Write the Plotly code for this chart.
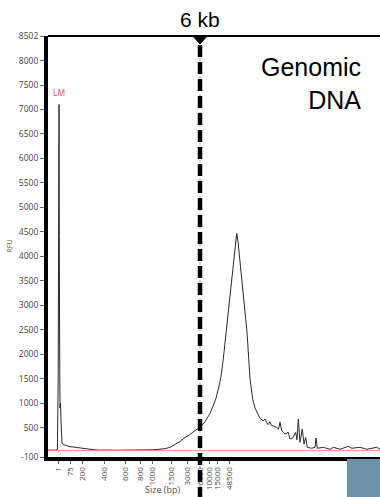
import plotly.graph_objects as go

# Electropherogram trace: migration time (s) vs RFU
time_s = [40.0, 41.25, 42.25, 42.6, 42.8, 42.9, 43.0, 43.08, 43.15, 43.25, 43.38, 43.5, 43.6,
          43.75, 44.25, 45.0, 45.75, 46.5, 47.25, 48.0, 48.75, 49.5, 50.75, 52.0,
          53.25, 54.5, 55.75, 57.0, 58.25, 59.5, 60.75, 62.0, 63.25, 64.5, 65.75, 67.0,
          68.25, 69.5, 70.75, 72.0, 73.25, 74.5, 75.75, 77.0, 78.25, 79.5, 80.75, 81.5,
          82.25, 83.0, 83.5, 84.0, 84.75, 85.65, 86.5, 87.125, 87.425, 87.75, 88.5, 89.25,
          90.0, 90.75, 91.425, 92.0, 92.5, 93.25, 94.075, 94.5, 94.925, 95.25, 95.75, 96.125,
          96.575, 97.425, 97.875, 98.25, 98.675, 99.5, 100.325, 100.75, 101.575, 102.175,
          102.5, 102.825, 103.25, 103.825, 104.25, 104.675, 105.075, 106.175, 107.0, 107.25,
          107.575, 109.075, 110.75, 111.575, 113.25, 115.325, 116.175, 118.25, 119.925,
          122.425, 123.25]
rfu = [40, 42, 40, 60, 1500, 4400, 7100, 4400, 2350, 900, 1000, 650, 300,
       180, 150, 125, 110, 105, 95, 90, 80, 75, 55, 45,
       40, 48, 42, 38, 45, 40, 42, 40, 44, 42, 45, 50,
       55, 70, 98, 150, 215, 300, 360, 440, 511, 620, 790, 940,
       1100, 1350, 1550, 1850, 2450, 3120, 3800, 4350, 4470, 4300, 3700, 3120,
       2450, 1500, 1080, 900, 817, 690, 640, 675, 607, 560, 620, 540,
       538, 505, 470, 610, 436, 369, 405, 267, 300, 405,
       250, 675, 200, 470, 165, 300, 98, 78, 98, 287,
       78, 98, 58, 98, 58, 118, 78, 98, 58,
       98, 58]

# Ladder sizes (bp) and their migration times
ladder_bp = ["1", "75", "200", "400", "600", "800", "1000", "1500", "3000", "6000",
             "10000", "15000", "48500"]
ladder_time = [42.75, 45.75, 48.75, 54.25, 59.5, 63.25, 66.25, 71.0, 75.0, 78.25,
               80.5, 82.5, 85.5]

y_ticks = [-100, 500, 1000, 1500, 2000, 2500, 3000, 3500, 4000, 4500, 5000, 5500,
           6000, 6500, 7000, 7500, 8000, 8502]

marker_time = 78.25      # 6 kb marker
threshold_rfu = 30       # red baseline
lm_time, lm_rfu = 42.9, 7350

x_range = [40.25, 123.25]
y_range = [-100, 8502]

fig = go.Figure()

fig.add_trace(go.Scatter(x=time_s, y=rfu, mode="lines",
                         line=dict(color="#2a2a2a", width=1), hoverinfo="skip",
                         showlegend=False))

# red threshold line
fig.add_shape(type="line", xref="x", yref="y", x0=x_range[0], x1=x_range[1],
              y0=threshold_rfu, y1=threshold_rfu, line=dict(color="#f08a8a", width=1))

# top border line
fig.add_shape(type="line", xref="paper", yref="paper", x0=0, x1=1, y0=1, y1=1,
              line=dict(color="black", width=2))

# thin dotted line under dashed marker
fig.add_shape(type="line", xref="x", yref="paper", x0=marker_time, x1=marker_time,
              y0=-0.1, y1=0.98, line=dict(color="#b98cc0", width=1, dash="dot"))
# thick dashed marker
fig.add_shape(type="line", xref="x", yref="paper", x0=marker_time, x1=marker_time,
              y0=-0.1, y1=0.98, line=dict(color="black", width=4.5, dash="12px,5px"))
# triangle on top
fig.add_shape(type="path", xref="x", yref="paper",
              path=f"M {marker_time-1.8},1 L {marker_time+1.8},1 L {marker_time},0.981 Z",
              fillcolor="black", line=dict(color="black", width=1))

# blue box bottom right
fig.add_shape(type="rect", xref="x", yref="paper", x0=115.0, x1=124.0, y0=-0.1, y1=-0.005,
              fillcolor="#6d93a9", line=dict(width=0))

fig.add_annotation(x=marker_time, y=1, xref="x", yref="paper", text="6 kb",
                   showarrow=False, yanchor="bottom", yshift=3,
                   font=dict(family="Liberation Sans, Arial", size=21, color="black"))
fig.add_annotation(x=1, y=0.965, xref="paper", yref="paper", text="Genomic<br>DNA",
                   showarrow=False, xanchor="right", yanchor="top", align="right", xshift=-17,
                   font=dict(family="Liberation Sans, Arial", size=25, color="black"))
fig.add_annotation(x=lm_time, y=lm_rfu, xref="x", yref="y", text="LM", showarrow=False,
                   font=dict(family="Open Sans, Liberation Sans", size=8.5, color="#e0505a"))
fig.add_annotation(x=0, y=0.5, xref="paper", yref="paper", text="RFU", showarrow=False,
                   textangle=-90, xanchor="center", xshift=-39,
                   font=dict(family="Open Sans, Liberation Sans", size=7, color="#555555"))
fig.add_annotation(x=0.345, y=0, xref="paper", yref="paper", text="Size (bp)", showarrow=False,
                   yanchor="middle", yshift=-32,
                   font=dict(family="Open Sans, Liberation Sans", size=9, color="#555555"))

fig.update_layout(
    width=380, height=497,
    margin=dict(l=48, r=0, t=36, b=40),
    paper_bgcolor="white", plot_bgcolor="white",
    showlegend=False,
    xaxis=dict(range=x_range, tickmode="array", tickvals=ladder_time, ticktext=ladder_bp,
               tickangle=-90, ticks="outside", ticklen=3, tickcolor="#666666",
               tickfont=dict(family="Open Sans, Liberation Sans", size=8, color="#444444"),
               showline=True, linecolor="black", linewidth=4, showgrid=False, zeroline=False,
               automargin=False),
    yaxis=dict(range=y_range, tickmode="array", tickvals=y_ticks,
               ticktext=[str(v) for v in y_ticks], ticks="outside", ticklen=4,
               tickcolor="#666666",
               tickfont=dict(family="Open Sans, Liberation Sans", size=8.5, color="#444444"),
               showline=True, linecolor="black", linewidth=4, showgrid=False, zeroline=False,
               automargin=False),
)

fig.write_html("out.html", config={"displayModeBar": False},
               post_script="document.body.style.margin='0';document.body.style.overflow='hidden';")
